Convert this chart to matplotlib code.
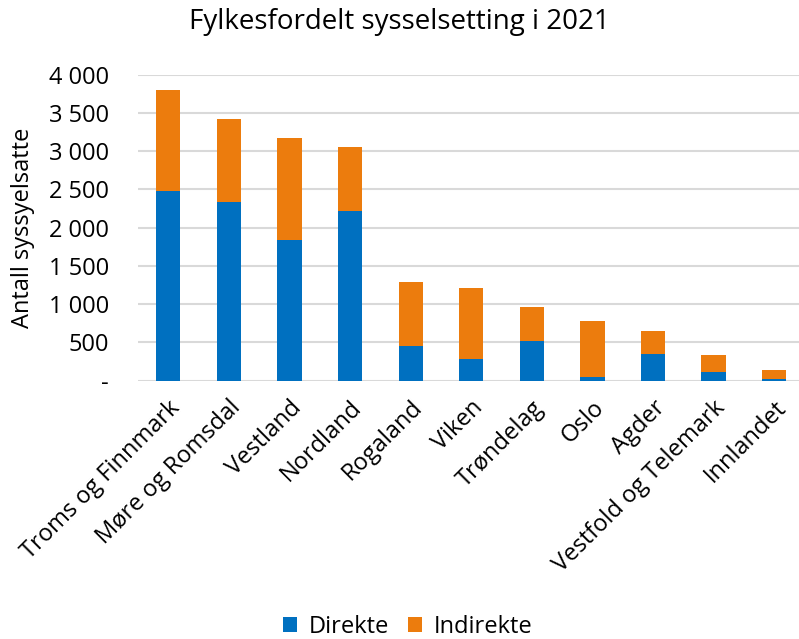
import matplotlib
matplotlib.use('Agg')
import matplotlib.pyplot as plt
from matplotlib.ticker import FuncFormatter

plt.rcParams['font.family'] = ['Open Sans', 'DejaVu Sans']

fylker = ['Troms og Finnmark', 'Møre og Romsdal', 'Vestland', 'Nordland', 'Rogaland',
          'Viken', 'Trøndelag', 'Oslo', 'Agder', 'Vestfold og Telemark', 'Innlandet']
direkte = [2480, 2335, 1840, 2222, 450, 280, 515, 45, 345, 108, 14]
totalt = [3800, 3420, 3168, 3054, 1291, 1203, 965, 776, 644, 336, 142]
indirekte = [t - d for t, d in zip(totalt, direkte)]

BLUE = '#0070C0'
ORANGE = '#EC7C0D'


def tusen(v, pos):
    if v == 0:
        return '-'
    return f'{int(v):,}'.replace(',', ' ')


fig = plt.figure(figsize=(7.99, 6.39), dpi=100)
ax = fig.add_axes([138 / 799, 0.4045, 1 - 138 / 799, 0.4789])

x = range(len(fylker))
ax.bar(x, direkte, width=0.4, color=BLUE, label='Direkte', zorder=3)
ax.bar(x, indirekte, width=0.4, bottom=direkte, color=ORANGE, label='Indirekte', zorder=3)

ax.set_xlim(-0.5, 10.41)
ax.set_ylim(0, 4000)
ax.set_yticks(range(0, 4001, 500))
ax.yaxis.set_major_formatter(FuncFormatter(tusen))
ax.grid(axis='y', color='#d9d9d9', linewidth=1.5, zorder=0)
for s in ax.spines.values():
    s.set_visible(False)
ax.tick_params(axis='y', length=0, labelsize=17, colors='#000000', pad=21)
ax.tick_params(axis='x', length=0, labelsize=17, colors='#000000', pad=11)
ax.set_xticks(list(x))
ax.set_xticklabels(fylker, rotation=45, ha='right', rotation_mode='anchor', fontsize=17)

ax.set_ylabel('Antall syssyelsatte', fontsize=17, labelpad=10)
fig.text(0.5, 1 - 22 / 639, 'Fylkesfordelt sysselsetting i 2021', fontsize=20,
         ha='center', va='center')

fig.legend(loc='center', ncol=2, frameon=False, fontsize=17,
           bbox_to_anchor=(0.51, 1 - 627 / 639), handlelength=0.6, handleheight=0.6,
           handletextpad=0.5, columnspacing=0.8)

fig.savefig('out.png', dpi=100)
plt.close(fig)
